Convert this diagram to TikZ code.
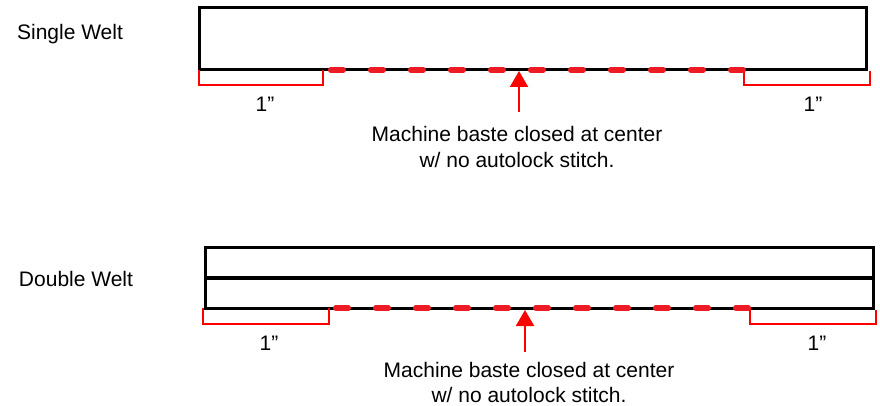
\documentclass[tikz,border=0pt]{standalone}
\usepackage{fontspec}
\setmainfont{Liberation Sans}
\usetikzlibrary{arrows.meta}
\definecolor{stitchred}{RGB}{237,28,36}
\begin{document}
\begin{tikzpicture}[x=1pt,y=-1pt,
        welt/.style={draw=black,line width=3pt},
        seam/.style={draw=black,line width=4.5pt},
        bracket/.style={draw=red,line width=2pt},
        stitch/.style={draw=stitchred,line width=5.5pt,line cap=round,
                        dash pattern=on 12.5pt off 27.5pt},
        baste/.style={draw=red,line width=2pt,
                        -{Triangle[length=16pt,width=18pt]}},
        every node/.style={font=\fontsize{21}{25.5}\selectfont,
                        inner sep=0pt,align=center,anchor=base}]
        \useasboundingbox (0,0) rectangle (880,406);

        \begin{scope}
            \coordinate (sTL) at (199,8);
            \coordinate (sBR) at (866,70);
            \coordinate (sBL) at (199,70);
            \coordinate (sLa) at (323,70);
            \coordinate (sLb) at (199,85);
            \coordinate (sLc) at (323,85);
            \coordinate (sRa) at (744,70);
            \coordinate (sRb) at (870,85);
            \coordinate (sRc) at (744,85);
            \coordinate (sRd) at (870,71);
            \coordinate (sSa) at (330.75,70);
            \coordinate (sSb) at (743.25,70);
            \coordinate (sTail) at (519,112);
            \coordinate (sTip) at (519,71);
        \end{scope}

        \path[welt] (sTL) rectangle (sBR);
        \path[bracket] (sBL) -- (sLb) -- (sLc) -- (sLa);
        \path[bracket] (sRa) -- (sRc) -- (sRb) -- (sRd);
        \path[stitch] (sSa) -- (sSb);
        \path[baste] (sTail) -- (sTip);

        \node (singlelabel) at (70,40) {Single Welt};
        \node (sleftlen) at (265,112) {1”};
        \node (srightlen) at (813,112) {1”};
        \node (snote) at (517,167.5) {Machine baste closed at center\\w/ no autolock stitch.};

        \begin{scope}
            \coordinate (dTL) at (205,247);
            \coordinate (dBR) at (873,308);
            \coordinate (dML) at (205,278);
            \coordinate (dMR) at (873,278);
            \coordinate (dBL) at (203,308);
            \coordinate (dLa) at (329,308);
            \coordinate (dLb) at (203,324);
            \coordinate (dLc) at (329,324);
            \coordinate (dRa) at (750,308);
            \coordinate (dRb) at (876,324);
            \coordinate (dRc) at (750,324);
            \coordinate (dRd) at (876,310);
            \coordinate (dSa) at (335.75,308);
            \coordinate (dSb) at (748.25,308);
            \coordinate (dTail) at (525,352);
            \coordinate (dTip) at (525,310);
        \end{scope}

        \path[welt] (dTL) rectangle (dBR);
        \path[seam] (dML) -- (dMR);
        \path[bracket] (dBL) -- (dLb) -- (dLc) -- (dLa);
        \path[bracket] (dRa) -- (dRc) -- (dRb) -- (dRd);
        \path[stitch] (dSa) -- (dSb);
        \path[baste] (dTail) -- (dTip);

        \node (doublelabel) at (76,286) {Double Welt};
        \node (dleftlen) at (269,350) {1”};
        \node (drightlen) at (817,350) {1”};
        \node (dnote) at (529,402.5) {Machine baste closed at center\\w/ no autolock stitch.};
    \end{tikzpicture}
\end{document}
